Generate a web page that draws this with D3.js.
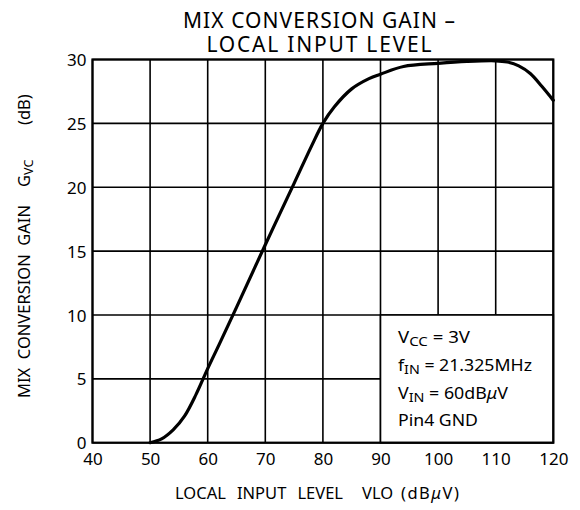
<!DOCTYPE html>
<html><head><meta charset="utf-8">
<script src="https://cdn.jsdelivr.net/npm/d3@7/dist/d3.min.js"></script>
<style>
body{margin:0;background:#fff}
text{font-family:"Noto Sans",sans-serif;fill:#000}
</style>
</head><body>
<svg id="chart" width="580" height="510"></svg>
<script>
// ---- data ----
const vlo = [50, 52, 54, 56, 58, 60, 62, 65, 70, 75, 78, 80, 82, 85, 88, 90, 94, 100, 105, 110, 112, 114, 116, 118, 120];
const gvc = [0, 0.3, 1.0, 2.1, 3.8, 5.8, 7.7, 10.6, 15.5, 20.3, 23.2, 25.0, 26.3, 27.7, 28.5, 28.85, 29.45, 29.7, 29.85, 29.9, 29.8, 29.5, 28.9, 27.9, 26.8];
const xTicks = [40, 50, 60, 70, 80, 90, 100, 110, 120];
const yTicks = [0, 5, 10, 15, 20, 25, 30];
const titleLines = ["MIX CONVERSION GAIN –", "LOCAL INPUT LEVEL"];
const xTitle = ["LOCAL INPUT LEVEL", "VLO", ["(dB", "μ", "V)"]];
const yTitle = ["MIX CONVERSION GAIN", ["G", "VC"], "(dB)"];
// each condition: [main, subscript, rest, italic, tail]
const conditions = [
  ["V", "CC", " = 3V", "", ""],
  ["f", "IN", " = 21.325MHz", "", ""],
  ["V", "IN", " = 60dB", "μ", "V"],
  ["Pin4  GND", "", "", "", ""]
];
const condBox = {x0: 90, x1: 120, y0: 0, y1: 10};

// ---- layout ----
const svg = d3.select("#chart");
const L = 92.5, R = 553.3, T = 59.5, B = 442.7;
const x = d3.scaleLinear().domain([40, 120]).range([L, R]);
const y = d3.scaleLinear().domain([0, 30]).range([B, T]);
const fitStretch = (sel, w) => sel.attr("textLength", w).attr("lengthAdjust", "spacingAndGlyphs");
const fitWords = (sel, w) => {
  const nat = sel.node().getComputedTextLength();
  const n = (sel.text().match(/ /g) || []).length || 1;
  sel.attr("word-spacing", Math.max(0, (w - nat) / n));
};

// grid
const g = svg.append("g");
g.selectAll("line.vx").data(xTicks).join("line")
  .attr("x1", d => x(d)).attr("x2", d => x(d)).attr("y1", T).attr("y2", B)
  .attr("stroke", "#000").attr("stroke-width", 1.6);
g.selectAll("line.hy").data(yTicks).join("line")
  .attr("x1", L).attr("x2", R).attr("y1", d => y(d)).attr("y2", d => y(d))
  .attr("stroke", "#000").attr("stroke-width", 1.6);

// condition box
svg.append("rect")
  .attr("x", x(condBox.x0)).attr("y", y(condBox.y1))
  .attr("width", x(condBox.x1) - x(condBox.x0)).attr("height", y(condBox.y0) - y(condBox.y1))
  .attr("fill", "#fff").attr("stroke", "#000").attr("stroke-width", 1.6);

// axes (labels only)
const xa = svg.append("g").attr("transform", `translate(0,${B})`)
  .call(d3.axisBottom(x).tickValues(xTicks).tickSize(0).tickPadding(10).tickFormat(d3.format("d")));
xa.select(".domain").remove();
xa.selectAll("text").attr("font-size", 17).attr("font-family", '"Noto Sans",sans-serif').attr("fill", "#000");
const ya = svg.append("g").attr("transform", `translate(${L},0)`)
  .call(d3.axisLeft(y).tickValues(yTicks).tickSize(0).tickPadding(6).tickFormat(d3.format("d")));
ya.select(".domain").remove();
ya.selectAll("text").attr("font-size", 17).attr("font-family", '"Noto Sans",sans-serif').attr("fill", "#000").attr("dy", "0.36em");

// frame
svg.append("rect").attr("x", L).attr("y", T).attr("width", R - L).attr("height", B - T)
  .attr("fill", "none").attr("stroke", "#000").attr("stroke-width", 2.2);

// curve
const pts = vlo.map((v, i) => [v, gvc[i]]);
svg.append("path").datum(pts)
  .attr("d", d3.line().x(d => x(d[0])).y(d => y(d[1])).curve(d3.curveCatmullRom.alpha(0.5)))
  .attr("fill", "none").attr("stroke", "#000").attr("stroke-width", 3.2)
  .attr("stroke-linejoin", "round").attr("stroke-linecap", "round");

// title
const titleW = [272, 225];
svg.selectAll("text.title").data(titleLines).join("text")
  .attr("class", "title").attr("x", 319).attr("y", (d, i) => 28 + i * 23.5)
  .attr("text-anchor", "middle").attr("font-size", 21)
  .attr("textLength", (d, i) => titleW[i]).attr("lengthAdjust", "spacing")
  .text(d => d);

// x title
const xt = svg.append("g").attr("font-size", 16.5);
fitWords(xt.append("text").attr("x", 175).attr("y", 499).text(xTitle[0]), 168);
xt.append("text").attr("x", 362).attr("y", 499).text(xTitle[1]);
const xt3 = xt.append("text").attr("x", 401).attr("y", 499).attr("letter-spacing", 1.5);
xt3.append("tspan").text(xTitle[2][0]);
xt3.append("tspan").attr("font-style", "italic").text(xTitle[2][1]);
xt3.append("tspan").text(xTitle[2][2]);

// y title
const yt = svg.append("g").attr("font-size", 16.5);
fitWords(yt.append("text").attr("transform", "translate(30,398) rotate(-90)").text(yTitle[0]), 193);
const yg = yt.append("text").attr("transform", "translate(30,187) rotate(-90)");
yg.append("tspan").text(yTitle[1][0]);
yg.append("tspan").attr("font-size", 12.5).attr("dy", 3).text(yTitle[1][1]);
yt.append("text").attr("transform", "translate(30,125) rotate(-90)").text(yTitle[2]);

// conditions
const condW = [72, 134, 110, 80];
const cg = svg.append("g").attr("font-size", 15.5);
conditions.forEach((c, i) => {
  const t = cg.append("text").attr("x", 398).attr("y", 343 + i * 27.8);
  t.append("tspan").text(c[0]);
  if (c[1]) t.append("tspan").attr("font-size", 12.5).attr("dy", 3).text(c[1]);
  if (c[2]) t.append("tspan").attr("dy", c[1] ? -3 : 0).text(c[2]);
  if (c[3]) t.append("tspan").attr("font-style", "italic").text(c[3]);
  if (c[4]) t.append("tspan").text(c[4]);
  fitStretch(t, condW[i]);
});
</script>
</body></html>
